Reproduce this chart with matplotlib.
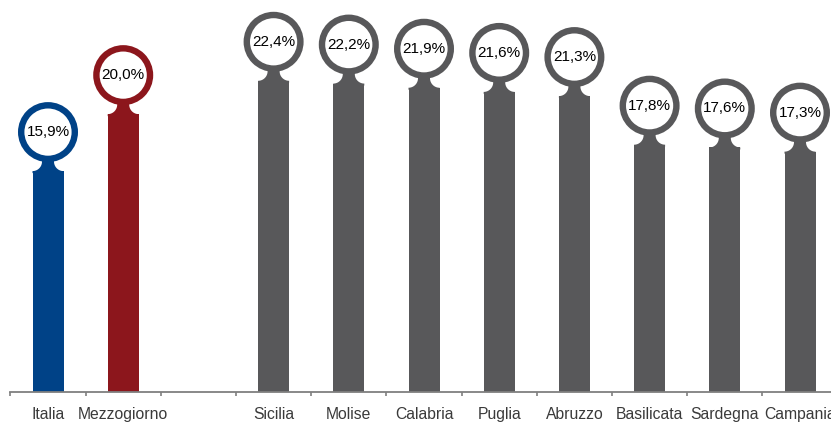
import numpy as np
import matplotlib.pyplot as plt
from matplotlib.patches import Ellipse, PathPatch
from matplotlib.path import Path

plt.rcParams['font.family'] = ['Liberation Sans', 'DejaVu Sans']

# data
categories = ["Italia", "Mezzogiorno", "", "Sicilia", "Molise", "Calabria",
              "Puglia", "Abruzzo", "Basilicata", "Sardegna", "Campania"]
values = [15.9, 20.0, None, 22.4, 22.2, 21.9, 21.6, 21.3, 17.8, 17.6, 17.3]
blue = "#004287"
red = "#8c161c"
grey = "#58585a"
colors = [blue, red, None] + [grey] * 8

W, H = 831, 423
fig = plt.figure(figsize=(W / 100, H / 100), dpi=100)
ax_l, ax_b, ax_w, ax_h = 10.4, 31, 827.2, 389
ax = fig.add_axes([ax_l / W, ax_b / H, ax_w / W, ax_h / H])
ymax = 28
ax.set_xlim(-0.5, 10.5)
ax.set_ylim(0, ymax)

# pixel -> data units
sx = 11 / ax_w
sy = ymax / ax_h

bw = 15.5   # half bar width, px
fr = 9.5    # fillet radius, px
x = np.arange(len(categories))
for xi, v, c in zip(x, values, colors):
    if v is None:
        continue
    ax.bar(xi, v, width=2 * bw * sx, color=c, zorder=2)

    # neck with concave fillets (pixel offsets from bar top)
    left = [(-bw + fr * np.cos(t), fr + fr * np.sin(t)) for t in np.linspace(-np.pi / 2, 0, 16)]
    right = [(bw - fr * np.cos(t), fr + fr * np.sin(t)) for t in np.linspace(0, -np.pi / 2, 16)]
    pts = [(-bw, -2)] + left + [(-bw + fr, 16), (bw - fr, 16)] + right + [(bw, -2)]
    pts = [(xi + px * sx, v + py * sy) for px, py in pts]
    ax.add_patch(PathPatch(Path(pts + [pts[0]], closed=True), facecolor=c,
                           edgecolor='none', zorder=2))

    # ring head
    cy = v + 39 * sy
    ax.add_patch(Ellipse((xi, cy), 2 * 26.8 * sx, 2 * 26.8 * sy, facecolor='white',
                         edgecolor=c, linewidth=6.4 * 0.72, zorder=3))
    ax.text(xi, cy, f"{v:.1f}%".replace('.', ','), ha='center', va='center',
            fontsize=11, color='black', zorder=4)

for s in ['top', 'right', 'left']:
    ax.spines[s].set_visible(False)
ax.spines['bottom'].set_color('#7f7f7f')
ax.spines['bottom'].set_linewidth(1.3)
ax.set_yticks([])
ax.set_xticks(x)
ax.set_xticklabels(categories, fontsize=11.3, color='#3a3a3a')
ax.tick_params(axis='x', which='major', length=0, pad=11)
ax.set_xticks(np.arange(-0.5, 11, 1), minor=True)
ax.tick_params(axis='x', which='minor', length=3, width=1.2, color='#7f7f7f', direction='out')

fig.savefig("out.png", dpi=100)
